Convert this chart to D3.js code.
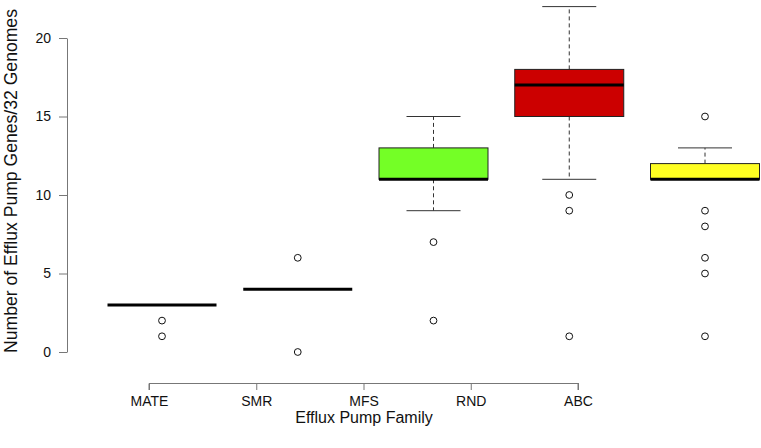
<!DOCTYPE html>
<html><head><meta charset="utf-8">
<script src="https://cdn.jsdelivr.net/npm/d3@7"></script>
<style>body{margin:0;background:#fff}svg{display:block}text{font-family:"Liberation Sans",Arial,sans-serif}</style>
</head><body>
<script>
const categories = ["MATE","SMR","MFS","RND","ABC"];
const q1 = [3,4,11,15,11];
const medians = [3,4,11,17,11];
const q3 = [3,4,13,18,12];
const whiskerLow = [3,4,9,11,11];
const whiskerHigh = [3,4,15,22,13];
const outliers = [[2,1],[6,0],[7,2],[10,9,1],[15,9,8,6,5,1]];
const fills = ["#ffffff","#ffffff","#74ff26","#cc0000","#ffff22"];
const yTicks = [0,5,10,15,20];
const yTitle = "Number of Efflux Pump Genes/32 Genomes";
const xTitle = "Efflux Pump Family";

const W = 761, H = 448;
const svg = d3.select("body").append("svg").attr("width",W).attr("height",H);
const y = d3.scaleLinear().domain([0,20]).range([352,38]);
const xBox = d3.scalePoint().domain(categories).range([162,705]);
const xAxisScale = d3.scalePoint().domain(categories).range([149,578]);
const halfW = 54.5, capW = 27;

// y axis
const ya = svg.append("g").attr("transform","translate(67,0)")
  .call(d3.axisLeft(y).tickValues(yTicks).tickSize(8).tickPadding(8).tickSizeOuter(0));
ya.select(".domain").attr("stroke","#777");
ya.selectAll(".tick line").attr("stroke","#777");
ya.selectAll(".tick text").attr("font-size",14).attr("fill","#111").attr("font-family","Liberation Sans, Arial, sans-serif");

// x axis
const xa = svg.append("g").attr("transform","translate(0,383)")
  .call(d3.axisBottom(xAxisScale).tickSize(7).tickPadding(0).tickSizeOuter(0));
xa.select(".domain").attr("stroke","#777").attr("d","M149,7V0.5H578V7");
xa.selectAll(".tick line").attr("stroke","#777");
xa.selectAll(".tick text").attr("font-size",14).attr("fill","#111").attr("y",22.5).attr("dy",0)
  .attr("font-family","Liberation Sans, Arial, sans-serif");

svg.append("text").attr("x",364).attr("y",423).attr("text-anchor","middle")
  .attr("font-size",16).attr("fill","#111").text(xTitle);
svg.append("text").attr("transform","translate(16.5,181) rotate(-90)").attr("text-anchor","middle")
  .attr("font-size",17.6).attr("fill","#111").text(yTitle);

const g = svg.append("g");
categories.forEach((c,i)=>{
  const cx = xBox(c);
  if (whiskerHigh[i] > q3[i]) {
    g.append("line").attr("x1",cx).attr("x2",cx).attr("y1",y(q3[i])).attr("y2",y(whiskerHigh[i]))
      .attr("stroke","#333").attr("stroke-dasharray","4,3");
    g.append("line").attr("x1",cx-capW).attr("x2",cx+capW).attr("y1",y(whiskerHigh[i])).attr("y2",y(whiskerHigh[i]))
      .attr("stroke","#333");
  }
  if (whiskerLow[i] < q1[i]) {
    g.append("line").attr("x1",cx).attr("x2",cx).attr("y1",y(q1[i])).attr("y2",y(whiskerLow[i]))
      .attr("stroke","#333").attr("stroke-dasharray","4,3");
    g.append("line").attr("x1",cx-capW).attr("x2",cx+capW).attr("y1",y(whiskerLow[i])).attr("y2",y(whiskerLow[i]))
      .attr("stroke","#333");
  }
  if (q3[i] > q1[i]) {
    g.append("rect").attr("x",cx-halfW).attr("width",2*halfW).attr("y",y(q3[i])).attr("height",y(q1[i])-y(q3[i]))
      .attr("fill",fills[i]).attr("stroke","#222").attr("stroke-width",1);
  }
  g.append("line").attr("x1",cx-halfW).attr("x2",cx+halfW).attr("y1",y(medians[i])).attr("y2",y(medians[i]))
    .attr("stroke","#000").attr("stroke-width",3);
  outliers[i].forEach(v=>{
    g.append("circle").attr("cx",cx).attr("cy",y(v)).attr("r",3.4)
      .attr("fill","none").attr("stroke","#111").attr("stroke-width",1);
  });
});
</script>
</body></html>
